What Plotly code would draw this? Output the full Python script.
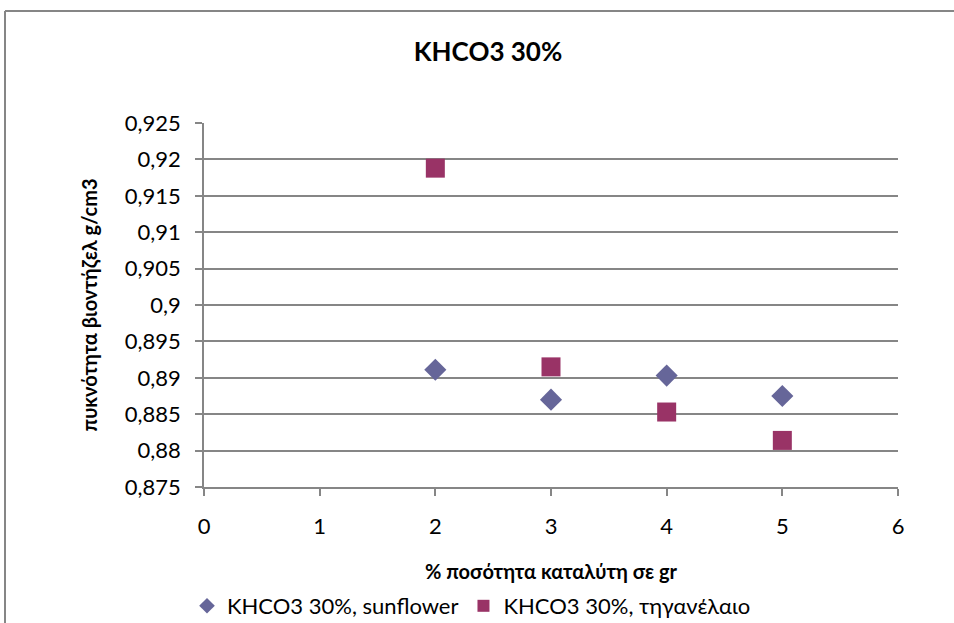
import plotly.graph_objects as go

x_vals = [2, 3, 4, 5]
sunflower = [0.8911, 0.8870, 0.8903, 0.8875]
fried_oil = [0.9188, 0.8915, 0.8853, 0.8814]
series_names = ["KHCO3 30%, sunflower", "KHCO3 30%, τηγανέλαιο"]
y_ticks = [0.875, 0.88, 0.885, 0.89, 0.895, 0.9, 0.905, 0.91, 0.915, 0.92, 0.925]
y_tick_labels = ["0,875", "0,88", "0,885", "0,89", "0,895", "0,9", "0,905", "0,91", "0,915", "0,92", "0,925"]
x_ticks = [0, 1, 2, 3, 4, 5, 6]

FONT = "Lato"
GRID = "#868686"

fig = go.Figure()
fig.add_trace(go.Scatter(x=x_vals, y=sunflower, mode="markers", name=series_names[0],
                         marker=dict(symbol="diamond", size=17, color="#666699")))
fig.add_trace(go.Scatter(x=x_vals, y=fried_oil, mode="markers", name=series_names[1],
                         marker=dict(symbol="square", size=19, color="#993366")))

L, R, T, B = 204, 56, 123, 136
W, H = 954, 623
pw, ph = W - L - R, H - T - B

def px_x(p):
    return (p - L) / pw

def px_y(p):
    return (H - B - p) / ph

fig.update_layout(
    width=W, height=H,
    margin=dict(l=L, r=R, t=T, b=B, autoexpand=False),
    paper_bgcolor="white", plot_bgcolor="white",
    font=dict(family=FONT, size=22, color="black"),
    title=dict(text="<b>KHCO3 30%</b>", x=488 / W, xanchor="center", y=1 - 52 / H, yanchor="middle",
               font=dict(family=FONT, size=26, color="black")),
    xaxis=dict(range=[0, 6], tickvals=x_ticks, showgrid=False, zeroline=False,
               showline=True, linecolor=GRID, linewidth=1.5,
               ticks="outside", ticklen=7, tickcolor=GRID, tickwidth=1.5,
               ticklabelstandoff=12,
               tickfont=dict(family=FONT, size=22),
               title=dict(text="<b>% ποσότητα καταλύτη σε gr</b>", standoff=27,
                          font=dict(family=FONT, size=20))),
    yaxis=dict(range=[0.875, 0.925], tickvals=y_ticks, ticktext=y_tick_labels,
               showgrid=True, gridcolor=GRID, gridwidth=1.5, zeroline=False,
               showline=True, linecolor=GRID, linewidth=1.5,
               ticks="outside", ticklen=7, tickcolor=GRID, tickwidth=1.5,
               ticklabelstandoff=10,
               tickfont=dict(family=FONT, size=22),
               title=dict(text="<b>πυκνότητα βιοντήζελ g/cm3</b>", standoff=22,
                          font=dict(family=FONT, size=20))),
    legend=dict(orientation="h", x=px_x(187), xanchor="left", y=px_y(606), yanchor="middle",
                font=dict(family=FONT, size=22), itemsizing="constant",
                bgcolor="rgba(0,0,0,0)", tracegroupgap=0),
    showlegend=True,
    shapes=[
        dict(type="line", xref="paper", yref="paper", x0=px_x(5), x1=px_x(960), y0=px_y(11), y1=px_y(11),
             line=dict(color=GRID, width=2)),
        dict(type="line", xref="paper", yref="paper", x0=px_x(5), x1=px_x(5), y0=px_y(11), y1=px_y(630),
             line=dict(color=GRID, width=2)),
    ],
)

fig.write_html("out.html")
